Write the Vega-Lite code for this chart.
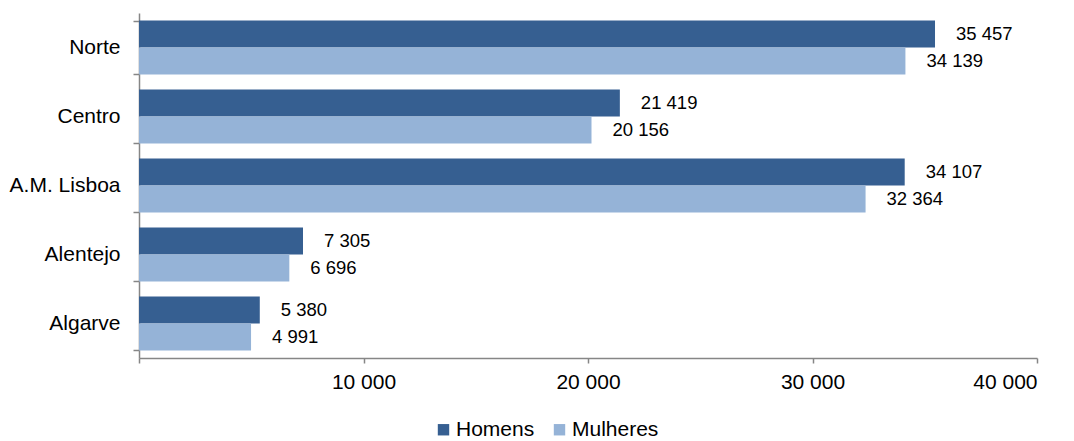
{
  "$schema": "https://vega.github.io/schema/vega-lite/v6.json",
  "autosize": {"type": "none"},
  "padding": {"left": 139, "top": 13, "right": 37, "bottom": 83},
  "width": 898,
  "height": 345,
  "config": {
    "locale": {"number": {"decimal": ",", "thousands": " ", "grouping": [3], "currency": ["", " €"]}},
    "font": "Liberation Sans",
    "view": {"stroke": null}
  },
  "data": {
    "values": [
      {"regiao": "Norte", "sexo": "Homens", "valor": 35457},
      {"regiao": "Norte", "sexo": "Mulheres", "valor": 34139},
      {"regiao": "Centro", "sexo": "Homens", "valor": 21419},
      {"regiao": "Centro", "sexo": "Mulheres", "valor": 20156},
      {"regiao": "A.M. Lisboa", "sexo": "Homens", "valor": 34107},
      {"regiao": "A.M. Lisboa", "sexo": "Mulheres", "valor": 32364},
      {"regiao": "Alentejo", "sexo": "Homens", "valor": 7305},
      {"regiao": "Alentejo", "sexo": "Mulheres", "valor": 6696},
      {"regiao": "Algarve", "sexo": "Homens", "valor": 5380},
      {"regiao": "Algarve", "sexo": "Mulheres", "valor": 4991}
    ]
  },
  "encoding": {
    "y": {
      "field": "regiao", "type": "nominal",
      "sort": ["Norte", "Centro", "A.M. Lisboa", "Alentejo", "Algarve"],
      "scale": {"paddingInner": 0.22, "paddingOuter": 0.11},
      "axis": {
        "title": null, "tickBand": "extent", "domainColor": "#868686", "tickColor": "#868686",
        "tickSize": 6, "labelPadding": 13, "labelFontSize": 21, "labelColor": "#000000",
        "domainWidth": 1.5, "tickWidth": 1.5
      }
    },
    "yOffset": {"field": "sexo", "type": "nominal", "sort": ["Homens", "Mulheres"]},
    "x": {
      "field": "valor", "type": "quantitative",
      "scale": {"domain": [0, 40000], "nice": false},
      "axis": {
        "title": null, "values": [0, 10000, 20000, 30000, 40000], "grid": false,
        "format": ",d", "labelExpr": "datum.value == 0 ? '' : datum.label",
        "domainColor": "#868686", "tickColor": "#868686", "tickSize": 5,
        "labelFontSize": 21, "labelColor": "#000000", "labelPadding": 8,
        "domainWidth": 1.5, "tickWidth": 1.5
      }
    }
  },
  "layer": [
    {
      "mark": {"type": "bar"},
      "encoding": {
        "color": {
          "field": "sexo", "type": "nominal",
          "scale": {"domain": ["Homens", "Mulheres"], "range": ["#365F91", "#95B3D7"]},
          "legend": {
            "title": null, "orient": "none", "direction": "horizontal",
            "legendX": 294, "legendY": 406, "symbolType": "square", "symbolSize": 130,
            "labelFontSize": 21, "labelColor": "#000000", "columnPadding": 14, "labelOffset": 2,
            "symbolOpacity": 1, "symbolStrokeWidth": 0
          }
        }
      }
    },
    {
      "mark": {"type": "text", "align": "left", "baseline": "middle", "dx": 21, "fontSize": 18.5, "color": "#000000"},
      "encoding": {"text": {"field": "valor", "type": "quantitative", "format": ",d"}}
    }
  ]
}
